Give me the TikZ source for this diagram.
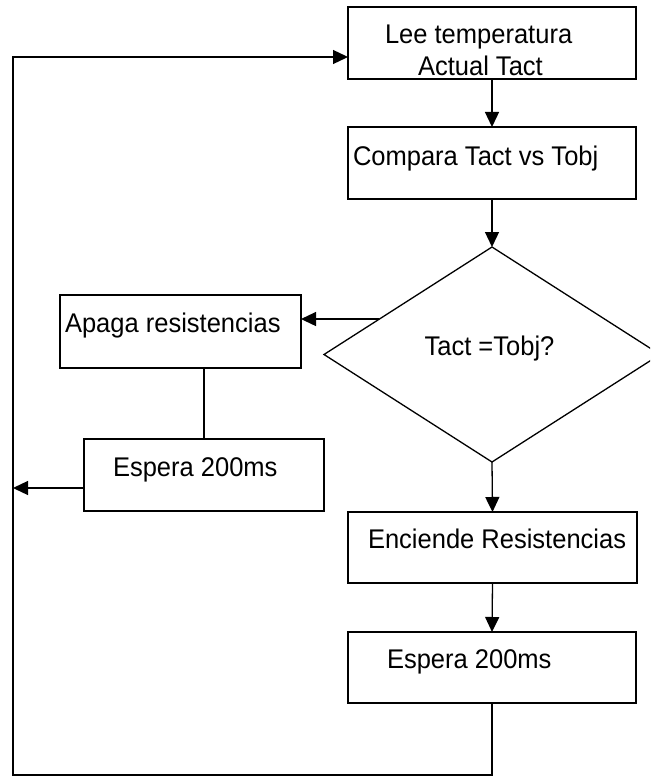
\documentclass[tikz,border=0pt]{standalone}
\usepackage{fontspec}
\setmainfont{Liberation Sans}[FakeStretch=0.945]
\usetikzlibrary{arrows.meta,shapes.geometric,calc}
\begin{document}
\begin{tikzpicture}[x=1pt,y=-1pt,
  line width=1.3pt,
  box/.style={draw, rectangle, inner sep=0pt, outer sep=0pt},
  txt/.style={inner sep=0pt, outer sep=0pt, font=\fontsize{27}{32}\selectfont, anchor=base west},
  arr/.style={-{Triangle[length=15pt,width=14pt]}}]
\clip (0,0) rectangle (650,778);
\fill[white] (0,0) rectangle (650,778);
% boxes
\node[box, minimum width=288pt, minimum height=72pt] (b1) at (492,43) {};
\node[box, minimum width=288pt, minimum height=72pt] (b2) at (492,163) {};
\node[draw, diamond, inner sep=0pt, outer sep=0pt, minimum width=336pt, minimum height=215pt] (d) at (492,354.5) {};
\node[box, minimum width=241pt, minimum height=73pt] (ap) at (180.5,331.5) {};
\node[box, minimum width=240pt, minimum height=72pt] (e1) at (204,475) {};
\node[box, minimum width=289pt, minimum height=71pt] (enc) at (492.5,547.5) {};
\node[box, minimum width=288pt, minimum height=71pt] (e2) at (492,667.5) {};
% texts
\node[txt] (t1a) at (385,44) {Lee temperatura};
\node[txt] (t1b) at (418,76) {Actual Tact};
\node[txt] (t2) at (353,165) {Compara Tact vs Tobj};
\node[txt, anchor=base] (td) at (489.5,355) {Tact =Tobj?};
\node[txt] (tap) at (65,332) {Apaga resistencias};
\node[txt] (te1) at (113,476) {Espera 200ms};
\node[txt] (tenc) at (368,548) {Enciende Resistencias};
\node[txt] (te2) at (387,668) {Espera 200ms};
% connectors
\draw[arr] (b1.south) -- (b2.north);
\draw[arr] (b2.south) -- (d.north);
\draw[arr] (d.south) -- (enc.north);
\draw[arr] (enc.south) -- (e2.north);
\coordinate (dl) at ($(d.north)!0.67!(d.west)$);
\draw[arr] (dl) -- (ap.east |- dl);
\draw (e1.north) -- (e1.north |- ap.south);
\coordinate (loopL) at (13,775);
\coordinate (loopT) at (13,57);
\coordinate (e1o) at ([yshift=-13pt]e1.west);
\draw[arr] (e1o) -- (loopL |- e1o);
\draw[arr] (e2.south) |- (loopL) -- (loopT) -- (loopT -| b1.west);
\end{tikzpicture}
\end{document}
